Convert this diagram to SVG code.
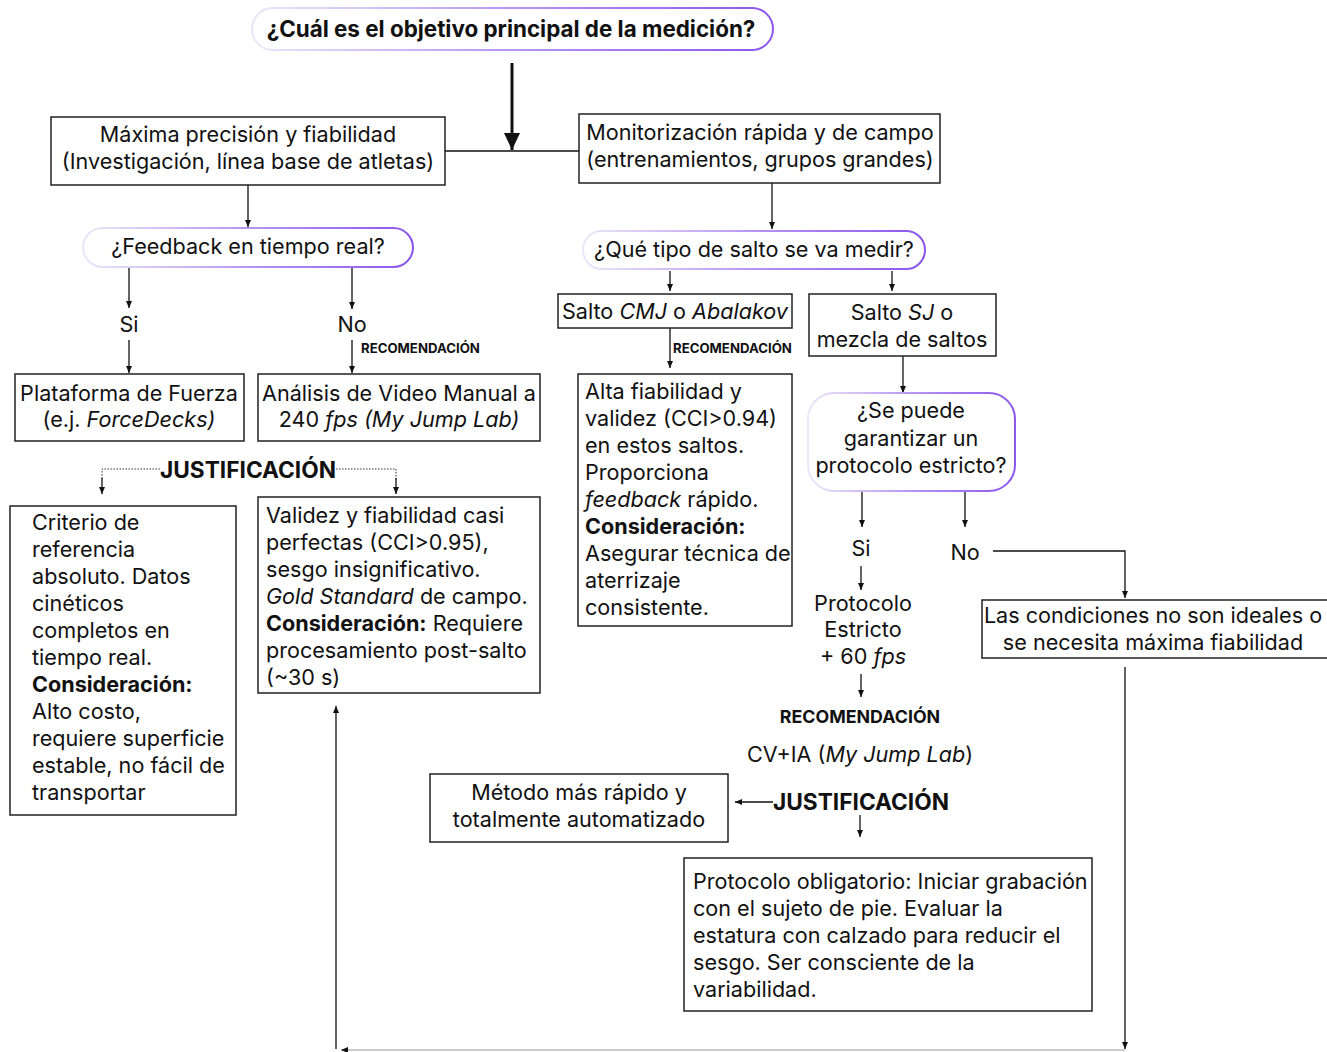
<svg xmlns="http://www.w3.org/2000/svg" width="1327" height="1052" viewBox="0 0 1327 1052">
<style>
text{font-family:Inter,"Liberation Sans",Arial,sans-serif;font-size:21.6px;fill:#111}
.c{text-anchor:middle}
.b{font-weight:700}
.i{font-style:italic}
.box{fill:#fff;stroke:#222;stroke-width:1.5}
.pill{fill:#fff;stroke:url(#pg);stroke-width:2}
.ln{fill:none;stroke:#111;stroke-width:1.3}
.dot{fill:none;stroke:#333;stroke-width:1;stroke-dasharray:1.5 1.5}
text.small{font-size:13.2px;font-weight:700}
text.just{font-size:22.7px;font-weight:700}
text.title{font-size:22.4px;font-weight:700}
text.rec{font-size:17.8px;font-weight:700}
</style>
<defs>
<linearGradient id="pg" x1="0" y1="0" x2="1" y2="0">
<stop offset="0" stop-color="#ece6f8"/>
<stop offset="0.5" stop-color="#b795f2"/>
<stop offset="1" stop-color="#8b55ee"/>
</linearGradient>
<marker id="a" markerWidth="8" markerHeight="8" refX="7" refY="4" orient="auto" markerUnits="userSpaceOnUse">
<path d="M0,1 L7,4 L0,7 z" fill="#111"/>
</marker>
<marker id="big" markerWidth="20" markerHeight="20" refX="17" refY="9" orient="auto" markerUnits="userSpaceOnUse">
<path d="M0,1 L17,9 L0,17 z" fill="#111"/>
</marker>
</defs>

<g id="connectors">
<line x1="512" y1="63" x2="512" y2="150" stroke="#111" stroke-width="3" marker-end="url(#big)"/>
<line class="ln" x1="445" y1="151" x2="579" y2="151"/>
<line class="ln" x1="248" y1="185" x2="248" y2="227" marker-end="url(#a)"/>
<line class="ln" x1="772" y1="183" x2="772" y2="229" marker-end="url(#a)"/>
<line class="ln" x1="129" y1="267" x2="129" y2="308" marker-end="url(#a)"/>
<line class="ln" x1="129" y1="340" x2="129" y2="373" marker-end="url(#a)"/>
<line class="ln" x1="352" y1="267" x2="352" y2="309" marker-end="url(#a)"/>
<line class="ln" x1="352" y1="340" x2="352" y2="373" marker-end="url(#a)"/>
<polyline class="dot" points="160,469 102,469 102,480"/>
<line class="ln" x1="102" y1="478" x2="102" y2="494" marker-end="url(#a)"/>
<polyline class="dot" points="336,469 396,469 396,480"/>
<line class="ln" x1="396" y1="478" x2="396" y2="494" marker-end="url(#a)"/>
<line class="ln" x1="670" y1="271" x2="670" y2="291" marker-end="url(#a)"/>
<line class="ln" x1="892" y1="271" x2="892" y2="291" marker-end="url(#a)"/>
<line class="ln" x1="670" y1="328" x2="670" y2="368" marker-end="url(#a)"/>
<line class="ln" x1="903" y1="356" x2="903" y2="393" marker-end="url(#a)"/>
<line class="ln" x1="862" y1="491" x2="862" y2="527" marker-end="url(#a)"/>
<line class="ln" x1="861" y1="566" x2="861" y2="590" marker-end="url(#a)"/>
<line class="ln" x1="965" y1="491" x2="965" y2="527" marker-end="url(#a)"/>
<polyline class="ln" points="993,551 1125,551 1125,598" marker-end="url(#a)"/>
<line class="ln" x1="861" y1="674" x2="861" y2="697" marker-end="url(#a)"/>
<line class="ln" x1="773" y1="802" x2="735" y2="802" marker-end="url(#a)"/>
<line class="ln" x1="860" y1="815" x2="860" y2="837" marker-end="url(#a)"/>
<line class="ln" x1="1125" y1="667" x2="1125" y2="1049" marker-end="url(#a)"/>
<line x1="1125" y1="1050" x2="341" y2="1050" stroke="#bbb" stroke-width="1.3" marker-end="url(#a)"/>
<line class="ln" x1="336" y1="1049" x2="336" y2="706" marker-end="url(#a)"/>
</g>

<g id="n-title">
<rect class="pill" x="252" y="8" width="521" height="42" rx="21"/>
<text class="c title" x="511" y="37">¿Cuál es el objetivo principal de la medición?</text>
</g>

<g id="n-precision">
<rect class="box" x="51" y="117" width="394" height="68"/>
<text class="c" x="248" y="142">Máxima precisión y fiabilidad</text>
<text class="c" x="248" y="169">(Investigación, línea base de atletas)</text>
</g>

<g id="n-monitor">
<rect class="box" x="579" y="114" width="361" height="69"/>
<text class="c" x="760" y="140">Monitorización rápida y de campo</text>
<text class="c" x="760" y="167">(entrenamientos, grupos grandes)</text>
</g>

<g id="n-feedback">
<rect class="pill" x="83" y="228" width="330" height="39" rx="19.5"/>
<text class="c" x="248" y="254">¿Feedback en tiempo real?</text>
</g>

<g id="n-si1"><text class="c" x="129" y="332">Si</text></g>
<g id="n-no1"><text class="c" x="352" y="332">No</text></g>
<g id="n-rec1"><text class="small" x="361" y="353">RECOMENDACIÓN</text></g>

<g id="n-plataforma">
<rect class="box" x="15" y="374" width="229" height="67"/>
<text class="c" x="129" y="401">Plataforma de Fuerza</text>
<text class="c" x="129" y="427">(e.j. <tspan class="i">ForceDecks)</tspan></text>
</g>

<g id="n-video">
<rect class="box" x="258" y="374" width="282" height="67"/>
<text class="c" x="399" y="401">Análisis de Video Manual a</text>
<text class="c" x="399" y="427">240 <tspan class="i">fps (My Jump Lab)</tspan></text>
</g>

<g id="n-just1"><text class="c just" x="248" y="478">JUSTIFICACIÓN</text></g>

<g id="n-criterio">
<rect class="box" x="10" y="506" width="226" height="309"/>
<text x="32" y="530">Criterio de</text>
<text x="32" y="557">referencia</text>
<text x="32" y="584">absoluto. Datos</text>
<text x="32" y="611">cinéticos</text>
<text x="32" y="638">completos en</text>
<text x="32" y="665">tiempo real.</text>
<text class="b" x="32" y="692">Consideración:</text>
<text x="32" y="719">Alto costo,</text>
<text x="32" y="746">requiere superficie</text>
<text x="32" y="773">estable, no fácil de</text>
<text x="32" y="800">transportar</text>
</g>

<g id="n-validez">
<rect class="box" x="258" y="497" width="282" height="196"/>
<text x="266" y="523">Validez y fiabilidad casi</text>
<text x="266" y="550">perfectas (CCI&gt;0.95),</text>
<text x="266" y="577">sesgo insignificativo.</text>
<text x="266" y="604"><tspan class="i">Gold Standard</tspan> de campo.</text>
<text x="266" y="631"><tspan class="b">Consideración:</tspan> Requiere</text>
<text x="266" y="658">procesamiento post-salto</text>
<text x="266" y="685">(~30 s)</text>
</g>

<g id="n-tipo">
<rect class="pill" x="583" y="231" width="342" height="38" rx="19"/>
<text class="c" x="754" y="257">¿Qué tipo de salto se va medir?</text>
</g>

<g id="n-cmj">
<rect class="box" x="558" y="294" width="234" height="34"/>
<text class="c" x="675" y="319">Salto <tspan class="i">CMJ</tspan> o <tspan class="i">Abalakov</tspan></text>
</g>

<g id="n-sj">
<rect class="box" x="809" y="294" width="187" height="62"/>
<text class="c" x="902" y="320">Salto <tspan class="i">SJ</tspan> o</text>
<text class="c" x="902" y="347">mezcla de saltos</text>
</g>

<g id="n-rec2"><text class="small" x="673" y="353">RECOMENDACIÓN</text></g>

<g id="n-alta">
<rect class="box" x="578" y="374" width="214" height="252"/>
<text x="585" y="399">Alta fiabilidad y</text>
<text x="585" y="426">validez (CCI&gt;0.94)</text>
<text x="585" y="453">en estos saltos.</text>
<text x="585" y="480">Proporciona</text>
<text x="585" y="507"><tspan class="i">feedback</tspan> rápido.</text>
<text class="b" x="585" y="534">Consideración:</text>
<text x="585" y="561">Asegurar técnica de</text>
<text x="585" y="588">aterrizaje</text>
<text x="585" y="615">consistente.</text>
</g>

<g id="n-protocolo-q">
<rect class="pill" x="808" y="393" width="207" height="98" rx="26"/>
<text class="c" x="911" y="418">¿Se puede</text>
<text class="c" x="911" y="446">garantizar un</text>
<text class="c" x="911" y="473">protocolo estricto?</text>
</g>

<g id="n-si2"><text class="c" x="861" y="556">Si</text></g>
<g id="n-no2"><text class="c" x="965" y="560">No</text></g>

<g id="n-estricto">
<text class="c" x="863" y="611">Protocolo</text>
<text class="c" x="863" y="637">Estricto</text>
<text class="c" x="863" y="664">+ 60 <tspan class="i">fps</tspan></text>
</g>

<g id="n-condiciones">
<rect class="box" x="982" y="600" width="350" height="58"/>
<text class="c" x="1153" y="623">Las condiciones no son ideales o</text>
<text class="c" x="1153" y="650">se necesita máxima fiabilidad</text>
</g>

<g id="n-rec3"><text class="c rec" x="860" y="723">RECOMENDACIÓN</text></g>
<g id="n-cvia"><text class="c" x="860" y="762">CV+IA (<tspan class="i">My Jump Lab</tspan>)</text></g>
<g id="n-just2"><text class="just" x="773" y="810">JUSTIFICACIÓN</text></g>

<g id="n-metodo">
<rect class="box" x="430" y="774" width="298" height="68"/>
<text class="c" x="579" y="800">Método más rápido y</text>
<text class="c" x="579" y="827">totalmente automatizado</text>
</g>

<g id="n-obligatorio">
<rect class="box" x="684" y="858" width="408" height="153"/>
<text x="693" y="889">Protocolo obligatorio: Iniciar grabación</text>
<text x="693" y="916">con el sujeto de pie. Evaluar la</text>
<text x="693" y="943">estatura con calzado para reducir el</text>
<text x="693" y="970">sesgo. Ser consciente de la</text>
<text x="693" y="997">variabilidad.</text>
</g>
</svg>
